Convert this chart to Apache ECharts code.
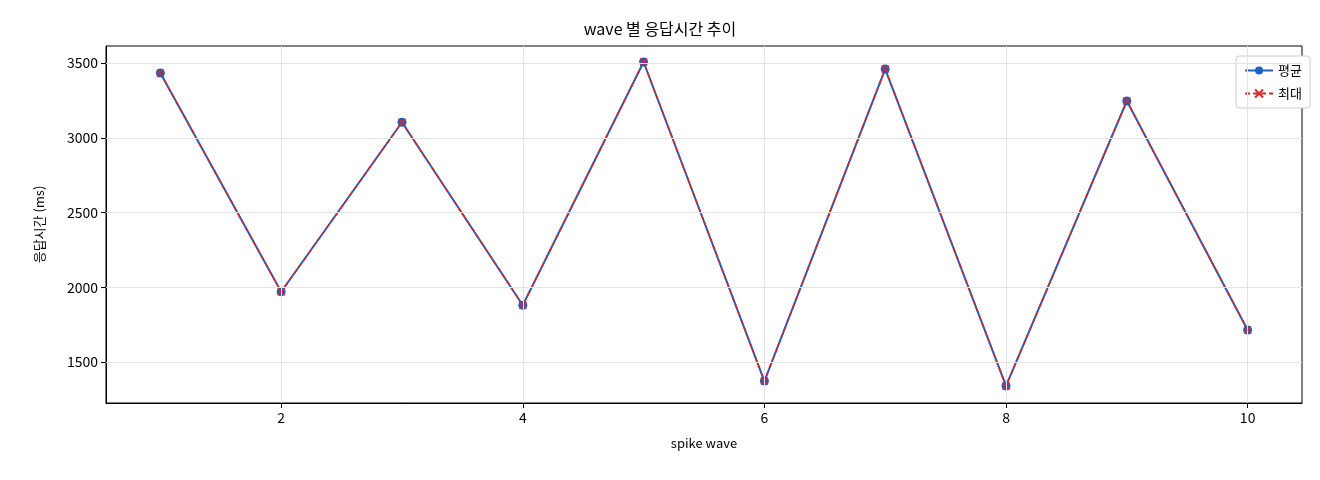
<!DOCTYPE html>
<html><head><meta charset="utf-8">
<script src="https://cdn.jsdelivr.net/npm/echarts@6/dist/echarts.min.js"></script>
<style>html,body{margin:0;padding:0;background:#fff}#c{width:1320px;height:480px}</style>
</head><body><div id="c"></div>
<script>
const waves = [1,2,3,4,5,6,7,8,9,10];
const avgMs = [3433,1970,3104,1880,3507,1373,3460,1340,3246,1714];
const maxMs = [3433,1970,3104,1880,3507,1373,3460,1340,3246,1714];
const xTicks = [2,4,6,8,10];
const yTicks = [1500,2000,2500,3000,3500];
const F = '"Noto Sans CJK KR", "DejaVu Sans", sans-serif';
const chart = echarts.init(document.getElementById('c'));
chart.setOption({
  animation:false,
  title:{text:'wave 별 응답시간 추이',left:'center',top:16,textStyle:{fontFamily:F,fontSize:16,fontWeight:'normal',color:'#000'}},
  legend:{right:10,top:56,orient:'vertical',itemGap:10,backgroundColor:'#fff',borderColor:'#ccc',borderWidth:1,borderRadius:3,padding:[8,8],
    textStyle:{fontFamily:F,fontSize:13,color:'#000'},itemWidth:28,itemHeight:10},
  grid:{left:106,right:18,top:46,bottom:77},
  xAxis:{type:'value',min:0.55,max:10.45,name:'spike wave',nameLocation:'middle',nameGap:34,
    nameTextStyle:{fontFamily:F,fontSize:13,color:'#000'},
    axisLine:{onZero:false,lineStyle:{color:'#000'}},
    axisTick:{customValues:xTicks,lineStyle:{color:'#000'}},
    axisLabel:{customValues:xTicks,fontFamily:F,fontSize:14,color:'#000'},
    splitLine:{show:false}},
  yAxis:{type:'value',min:1226,max:3614,name:'응답시간 (ms)',nameLocation:'middle',nameGap:60,
    nameTextStyle:{fontFamily:F,fontSize:13,color:'#000'},
    axisLine:{show:true,lineStyle:{color:'#000'}},
    axisTick:{show:true,customValues:yTicks,lineStyle:{color:'#000'}},
    axisLabel:{customValues:yTicks,formatter:v=>String(v),fontFamily:F,fontSize:14,color:'#000'},
    splitLine:{show:false}},
  series:[
    {name:'평균',type:'line',data:waves.map((w,i)=>[w,avgMs[i]]),symbol:'circle',symbolSize:9,
      itemStyle:{color:'#1f5fbf'},lineStyle:{color:'#1f5fbf',width:2},
      markLine:{silent:true,symbol:'none',label:{show:false},lineStyle:{color:'#e3e3e3',width:1,type:'solid'},
        data:xTicks.map(v=>({xAxis:v})).concat(yTicks.map(v=>({yAxis:v})))}},
    {name:'최대',type:'line',data:waves.map((w,i)=>[w,maxMs[i]]),symbol:'path://M0,0L10,10M10,0L0,10',symbolSize:7,
      itemStyle:{color:'none',borderColor:'#d62728',borderWidth:1.5},lineStyle:{color:'#d62728',width:1.5,type:[5,3]}}
  ]
});
chart.setOption({graphic:[{type:'rect',shape:{x:106,y:46,width:1196,height:357},style:{fill:'none',stroke:'#000',lineWidth:1},silent:true}]});
</script></body></html>
